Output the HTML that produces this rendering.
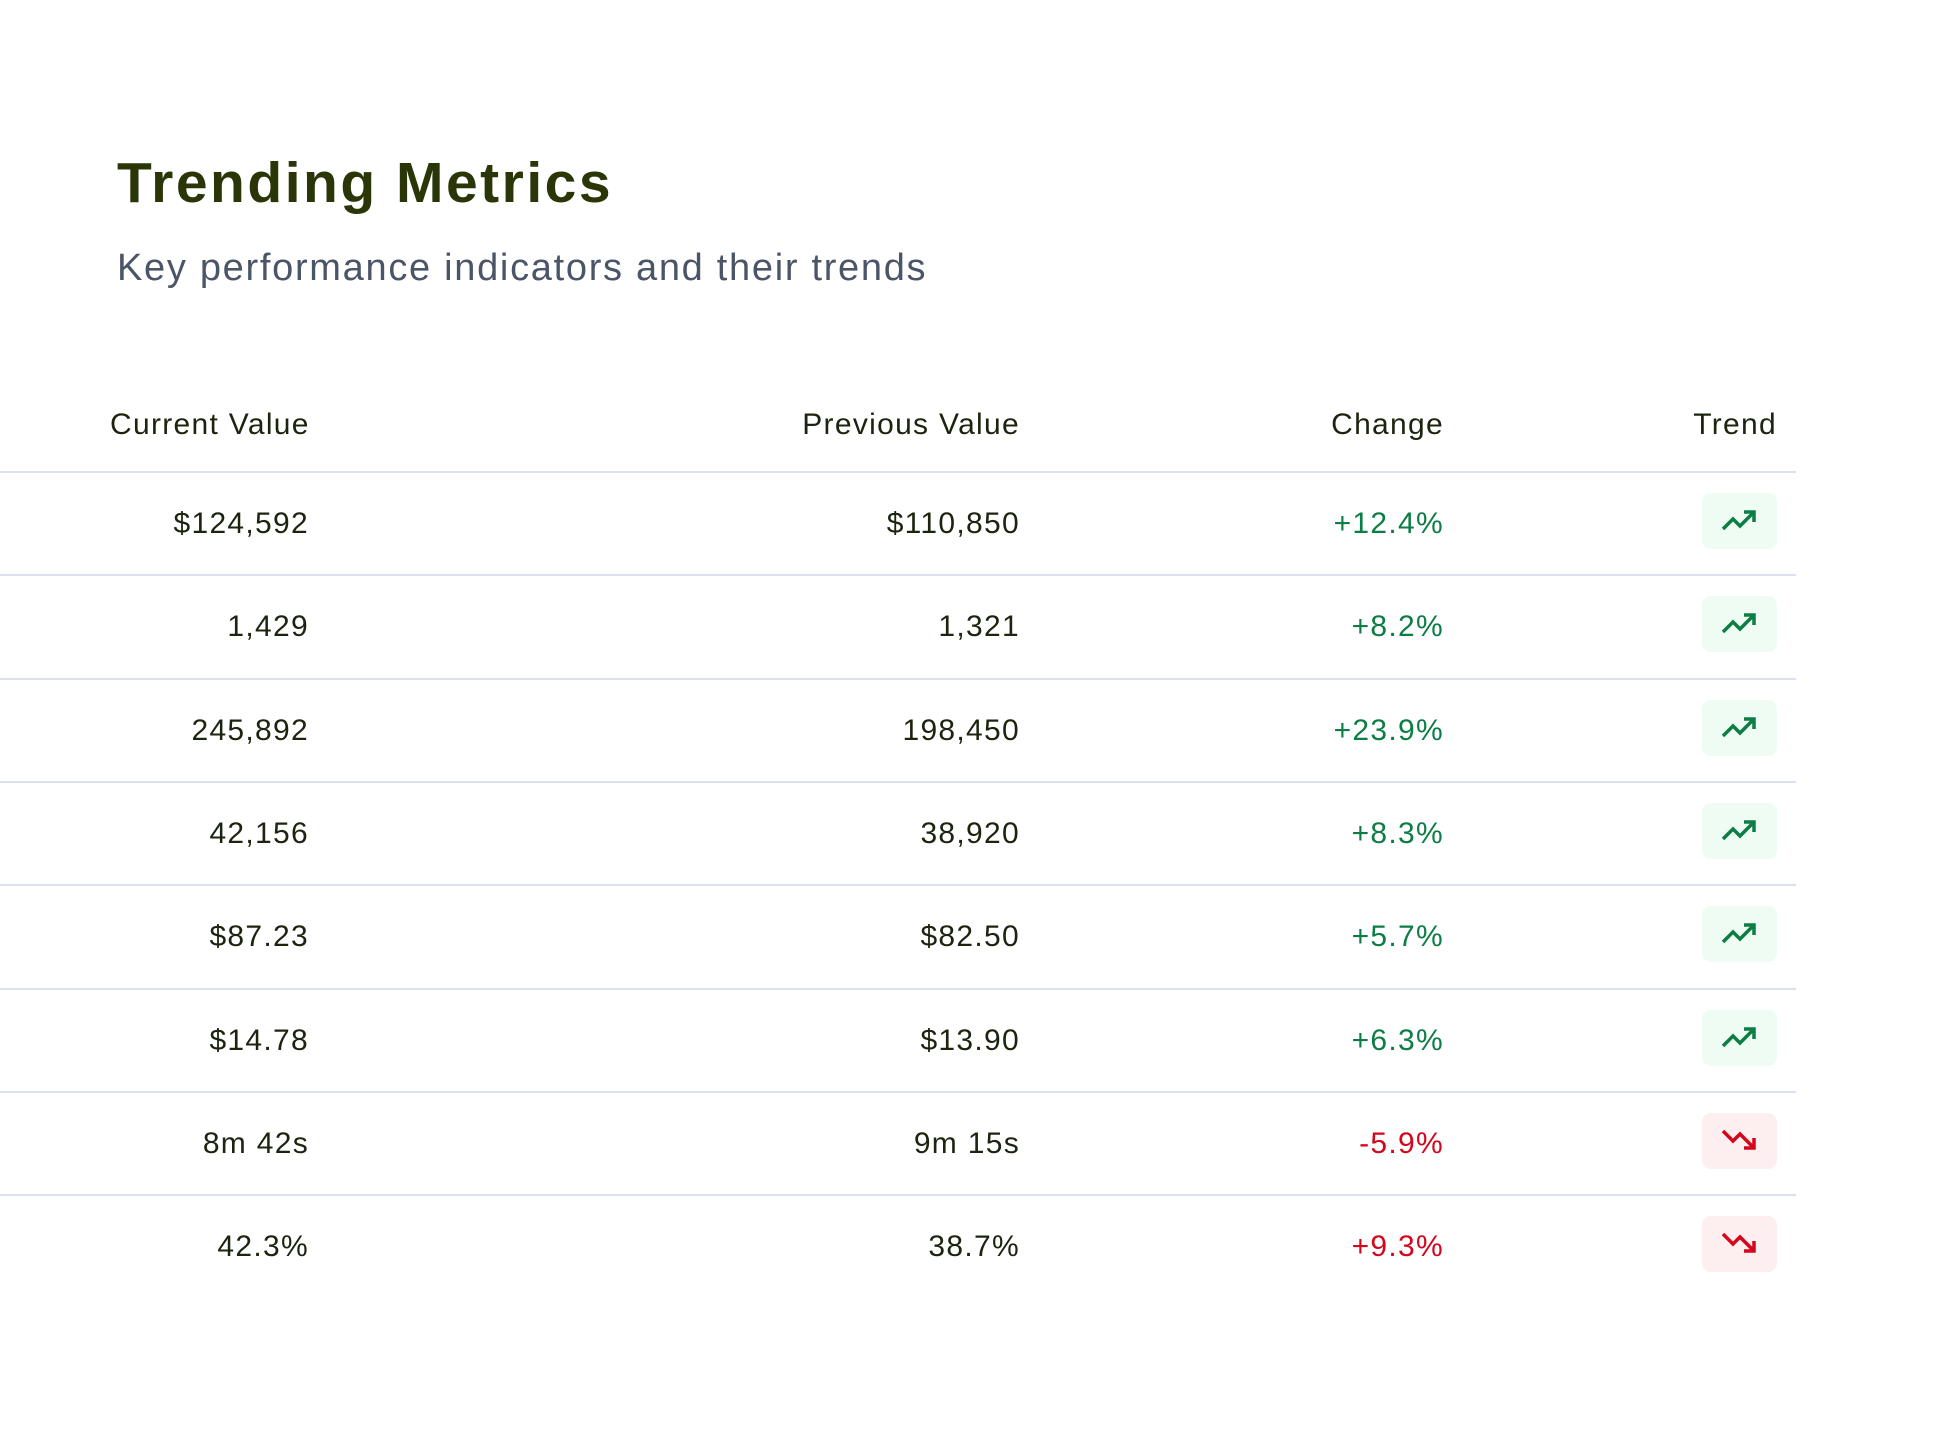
<!DOCTYPE html>
<html><head><meta charset="utf-8"><style>
html,body{margin:0;padding:0;background:#fff;width:1938px;height:1452px;overflow:hidden;font-family:"Liberation Sans",sans-serif;}
.card{position:absolute;left:0;top:127px;width:1854px;height:1195px;background:#fff;}
h1{position:absolute;left:117px;top:148px;margin:0;font-size:57px;font-weight:bold;color:#2b3608;line-height:70px;letter-spacing:2.5px;}
.sub{position:absolute;left:117px;top:245px;font-size:38px;color:#4b5568;line-height:46px;letter-spacing:1.7px;}
.t{position:absolute;font-size:30px;color:#1c240f;line-height:36px;white-space:nowrap;letter-spacing:1.3px;}
.r{text-align:right;}
.line{position:absolute;left:0;width:1796px;height:2px;background:#dbe1f0;}
.g{color:#0c7d45}.rd{color:#d4061c}
.box{position:absolute;left:1702px;width:75px;height:56px;border-radius:9px;}
.box svg{position:absolute;left:18px;top:12px;}
</style></head><body>
<div class="card"></div>
<h1>Trending Metrics</h1>
<div class="sub">Key performance indicators and their trends</div>
<div class="t" style="left:110px;top:407px">Current Value</div>
<div class="t r" style="right:918px;top:407px">Previous Value</div>
<div class="t r" style="right:494px;top:407px">Change</div>
<div class="t r" style="right:161px;top:407px">Trend</div>
<div class="line" style="top:471px"></div>
<div id="rows"></div>
<script>
var d=[["$124,592","$110,850","+12.4%",1],["1,429","1,321","+8.2%",1],["245,892","198,450","+23.9%",1],["42,156","38,920","+8.3%",1],["$87.23","$82.50","+5.7%",1],["$14.78","$13.90","+6.3%",1],["8m 42s","9m 15s","-5.9%",0],["42.3%","38.7%","+9.3%",0]];
var h="";
var up='<svg width="40" height="30" viewBox="0 0 40 30"><polyline points="3,24 13,14 20,21 33,8" fill="none" stroke="#0c7d45" stroke-width="3.5"/><polyline points="24,7 34,7 34,17" fill="none" stroke="#0c7d45" stroke-width="3.5"/></svg>';
var dn='<svg width="40" height="30" viewBox="0 0 40 30"><polyline points="3,6 13,16 20,9 33,22" fill="none" stroke="#d4061c" stroke-width="3.5"/><polyline points="24,23 34,23 34,13" fill="none" stroke="#d4061c" stroke-width="3.5"/></svg>';
for(var i=0;i<8;i++){var y=472+i*103.3;var c=y+52;
h+='<div class="t r" style="right:1629px;top:'+(c-18)+'px">'+d[i][0]+'</div>';
h+='<div class="t r" style="right:918px;top:'+(c-18)+'px">'+d[i][1]+'</div>';
h+='<div class="t r '+(d[i][3]?'g':'rd')+'" style="right:494px;top:'+(c-18)+'px">'+d[i][2]+'</div>';
h+='<div class="box" style="top:'+(c-31)+'px;background:'+(d[i][3]?'#effcf3':'#fdefef')+'">'+(d[i][3]?up:dn)+'</div>';
if(i<7)h+='<div class="line" style="top:'+(y+102.3)+'px"></div>';}
document.getElementById("rows").innerHTML=h;
</script>
</body></html>
